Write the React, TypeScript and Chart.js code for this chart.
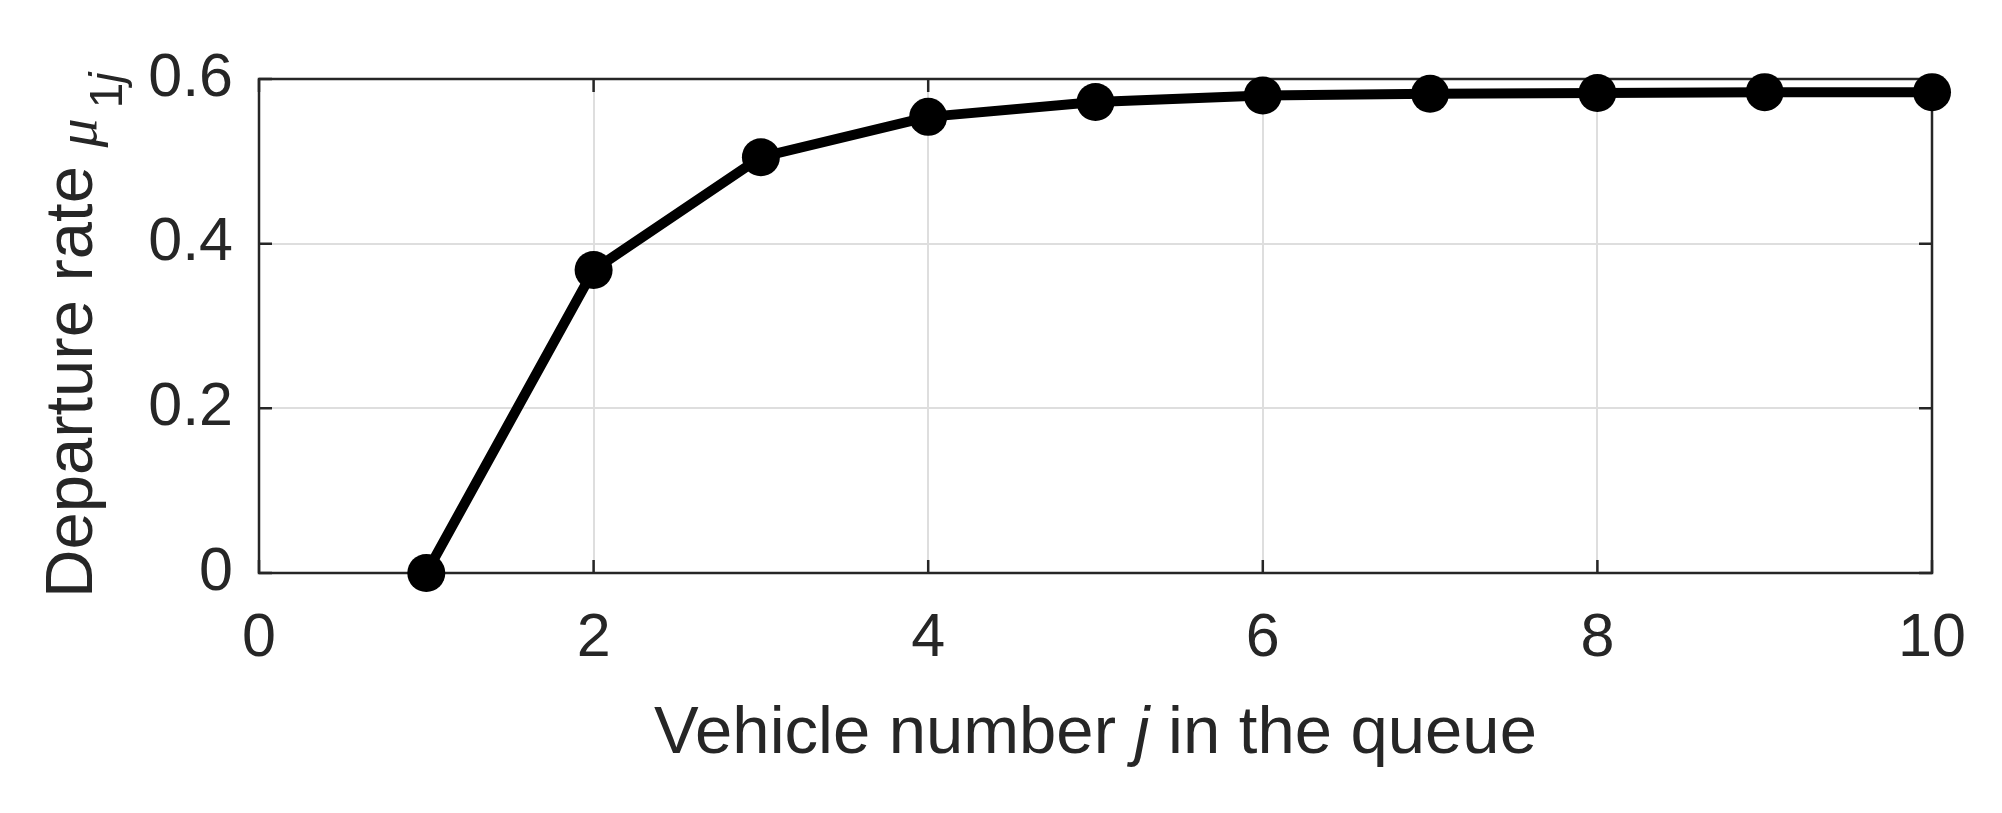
import React, { useEffect, useRef } from "react";
import { Chart, registerables } from "chart.js";
Chart.register(...registerables);

const vehicleNumbers = [1, 2, 3, 4, 5, 6, 7, 8, 9, 10];
const departureRates = [0, 0.368, 0.505, 0.554, 0.572, 0.58, 0.582, 0.583, 0.584, 0.584];
const xTicks = [0, 2, 4, 6, 8, 10];
const yTicks = [0, 0.2, 0.4, 0.6];
const xLabelParts = [
  { text: "Vehicle number ", style: "" },
  { text: "j", style: "italic " },
  { text: " in the queue", style: "" },
];

const AXIS_COLOR = "#262626";
const SANS = "'Liberation Sans', Arial, sans-serif";
const SERIF = "'Liberation Serif', 'DejaVu Serif', serif";

export default function App() {
  const ref = useRef<HTMLCanvasElement>(null);
  useEffect(() => {
    document.body.style.margin = "0";
    const canvas = ref.current!;
    const framePlugin = {
      id: "frame",
      beforeDatasetsDraw(chart: any) {
        const { ctx, chartArea: a, scales } = chart;
        ctx.save();
        ctx.strokeStyle = AXIS_COLOR;
        ctx.lineWidth = 2.5;
        ctx.strokeRect(a.left, a.top, a.right - a.left, a.bottom - a.top);
        const tl = 13;
        ctx.beginPath();
        for (const v of xTicks) {
          const x = scales.x.getPixelForValue(v);
          ctx.moveTo(x, a.bottom);
          ctx.lineTo(x, a.bottom - tl);
          ctx.moveTo(x, a.top);
          ctx.lineTo(x, a.top + tl);
        }
        for (const v of yTicks) {
          const y = scales.y.getPixelForValue(v);
          ctx.moveTo(a.left, y);
          ctx.lineTo(a.left + tl, y);
          ctx.moveTo(a.right, y);
          ctx.lineTo(a.right - tl, y);
        }
        ctx.stroke();
        ctx.restore();
      },
      afterDraw(chart: any) {
        const { ctx, chartArea: a } = chart;
        ctx.save();
        ctx.fillStyle = AXIS_COLOR;
        ctx.textBaseline = "alphabetic";
        ctx.textAlign = "left";
        // x label
        const xs = 67;
        let total = 0;
        const widths = xLabelParts.map((p) => {
          ctx.font = `${p.style}${xs}px ${SANS}`;
          const w = ctx.measureText(p.text).width;
          total += w;
          return w;
        });
        let x = (a.left + a.right) / 2 - total / 2;
        xLabelParts.forEach((p, i) => {
          ctx.font = `${p.style}${xs}px ${SANS}`;
          ctx.fillText(p.text, x, 753);
          x += widths[i];
        });
        // y label (rotated, reading bottom to top)
        const yParts = [
          { text: "Departure rate ", font: `67px ${SANS}`, dy: 0, gap: 0 },
          { text: "\u03bc", font: `italic 58px ${SERIF}`, dy: 4, gap: 10 },
          { text: "1", font: `46px ${SANS}`, dy: 30, gap: 0 },
          { text: "j", font: `italic 46px ${SANS}`, dy: 30, gap: 0 },
        ];
        ctx.translate(92, a.bottom + 25);
        ctx.rotate(-Math.PI / 2);
        let lx = 0;
        yParts.forEach((p) => {
          ctx.font = p.font;
          ctx.fillText(p.text, lx, p.dy);
          lx += ctx.measureText(p.text).width + p.gap;
        });
        ctx.restore();
      },
    };

    const chart = new Chart(canvas, {
      type: "line",
      data: {
        datasets: [
          {
            data: vehicleNumbers.map((v, i) => ({ x: v, y: departureRates[i] })),
            borderColor: "#000000",
            backgroundColor: "#000000",
            borderWidth: 10,
            pointRadius: 19,
            pointBorderWidth: 0,
            pointBackgroundColor: "#000000",
            borderJoinStyle: "round",
            borderCapStyle: "round",
            tension: 0,
            clip: false as any,
          },
        ],
      },
      options: {
        animation: false,
        responsive: false,
        devicePixelRatio: 1,
        events: [],
        layout: { padding: { top: 79, right: 70, left: 0, bottom: 0 } },
        plugins: { legend: { display: false }, tooltip: { enabled: false } },
        scales: {
          x: {
            type: "linear",
            min: 0,
            max: 10,
            afterBuildTicks: (s: any) => {
              s.ticks = xTicks.map((v) => ({ value: v }));
            },
            afterFit: (s: any) => {
              s.height = 240;
            },
            grid: { color: "#dedede", lineWidth: 2, drawTicks: false },
            border: { display: false },
            ticks: {
              padding: 30,
              color: AXIS_COLOR,
              font: { family: SANS, size: 61 },
              maxRotation: 0,
              callback: (v: any) => String(v),
            },
          },
          y: {
            type: "linear",
            min: 0,
            max: 0.6,
            afterBuildTicks: (s: any) => {
              s.ticks = yTicks.map((v) => ({ value: v }));
            },
            afterFit: (s: any) => {
              s.width = 259;
            },
            grid: { color: "#dedede", lineWidth: 2, drawTicks: false },
            border: { display: false },
            ticks: {
              padding: 26,
              color: AXIS_COLOR,
              font: { family: SANS, size: 61 },
              callback: (v: any) => String(Math.round(v * 10) / 10),
            },
          },
        },
      },
      plugins: [framePlugin],
    });
    return () => chart.destroy();
  }, []);
  return <canvas ref={ref} width={2002} height={813} style={{ display: "block" }} />;
}
